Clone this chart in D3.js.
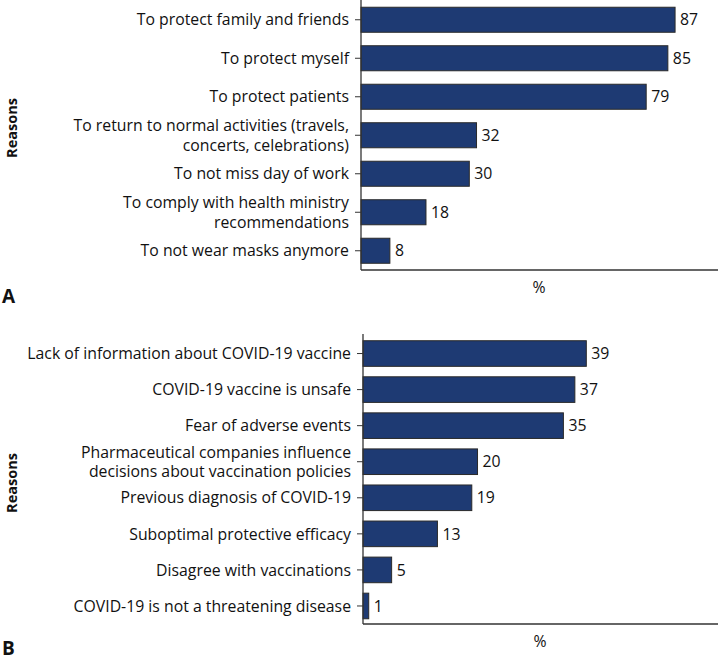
<!DOCTYPE html>
<html><head><meta charset="utf-8">
<script src="https://cdn.jsdelivr.net/npm/d3@7"></script>
<style>
body{margin:0;background:#fff;}
svg{display:block;font-family:"Open Sans",sans-serif;}
</style></head>
<body><svg id="c" width="718" height="661"></svg>
<script>
const categoriesA = [
  "To protect family and friends",
  "To protect myself",
  "To protect patients",
  "To return to normal activities (travels,\nconcerts, celebrations)",
  "To not miss day of work",
  "To comply with health ministry\nrecommendations",
  "To not wear masks anymore"
];
const valuesA = [87, 85, 79, 32, 30, 18, 8];

const categoriesB = [
  "Lack of information about COVID-19 vaccine",
  "COVID-19 vaccine is unsafe",
  "Fear of adverse events",
  "Pharmaceutical companies influence\ndecisions about vaccination policies",
  "Previous diagnosis of COVID-19",
  "Suboptimal protective efficacy",
  "Disagree with vaccinations",
  "COVID-19 is not a threatening disease"
];
const valuesB = [39, 37, 35, 20, 19, 13, 5, 1];

const panelLabels = ["A", "B"];
const axisTitleY = "Reasons";
const axisTitleX = "%";

const svg = d3.select("#c");
const FONT = 15.8;
const barFill = "#1e3a73", barStroke = "#2a2a2a", axisCol = "#333";

function panel(cats, vals, cfg) {
  const g = svg.append("g");
  const x = d3.scaleLinear().domain([0, cfg.xMax]).range([cfg.x0, cfg.x1]);
  const y = d3.scaleBand().domain(cats).range([cfg.y0, cfg.y1]).paddingInner(cfg.pad).paddingOuter(cfg.pad / 2);

  g.selectAll("rect.bar").data(vals).join("rect")
    .attr("x", x(0))
    .attr("y", (d, i) => y(cats[i]))
    .attr("width", d => x(d) - x(0))
    .attr("height", y.bandwidth())
    .attr("fill", barFill)
    .attr("stroke", barStroke)
    .attr("stroke-width", 1);

  g.selectAll("text.val").data(vals).join("text")
    .attr("x", d => x(d) + 5)
    .attr("y", (d, i) => y(cats[i]) + y.bandwidth() / 2)
    .attr("dy", "0.36em")
    .attr("font-size", FONT)
    .attr("fill", "#111")
    .text(d => d);

  const ax = g.append("g").attr("transform", `translate(${x(0)},0)`)
    .call(d3.axisLeft(y).tickSize(6).tickPadding(5).tickSizeOuter(0));
  ax.attr("font-family", null).attr("font-size", null);
  ax.select(".domain").remove();
  ax.selectAll(".tick line").attr("stroke", axisCol).attr("stroke-width", 1);
  ax.selectAll(".tick text").each(function (d) {
    const t = d3.select(this);
    const lines = d.split("\n");
    t.text(null).attr("font-size", FONT).attr("fill", "#111");
    const lh = 19.3;
    const off = -(lines.length - 1) * lh / 2;
    lines.forEach((ln, k) => {
      t.append("tspan").attr("x", -12).attr("dy", k === 0 ? (off / FONT + 0.36) + "em" : lh + "px").text(ln);
    });
    t.attr("dy", null);
  });

  g.append("line").attr("x1", x(0)).attr("x2", x(0)).attr("y1", cfg.yTop).attr("y2", cfg.y1)
    .attr("stroke", axisCol).attr("stroke-width", 1.3);
  g.append("line").attr("x1", x(0)).attr("x2", cfg.x1).attr("y1", cfg.y1).attr("y2", cfg.y1)
    .attr("stroke", axisCol).attr("stroke-width", 1.3);

  g.append("text").attr("x", cfg.pctX).attr("y", cfg.y1 + 17).attr("dy", "0.36em")
    .attr("text-anchor", "middle").attr("font-size", FONT).attr("fill", "#111").text(axisTitleX);
  g.append("text")
    .attr("transform", `translate(17,${cfg.reasonsY}) rotate(-90)`)
    .attr("text-anchor", "middle").attr("font-size", 14.5).attr("font-weight", "bold").attr("fill", "#111")
    .text(axisTitleY);
  g.append("text").attr("x", 2).attr("y", cfg.labelY)
    .attr("font-size", 19).attr("font-weight", "bold").attr("fill", "#111").text(cfg.label);
}

panel(categoriesA, valuesA, {xMax: 100, x0: 361, x1: 722, y0: 0.5, y1: 270, yTop: 0, pad: 0.35, pctX: 539, labelY: 303, reasonsY: 128, label: panelLabels[0]});
panel(categoriesB, valuesB, {xMax: 62, x0: 363, x1: 718, y0: 335.5, y1: 624, yTop: 334, pad: 0.29, pctX: 540, labelY: 655, reasonsY: 483, label: panelLabels[1]});
</script></body></html>
